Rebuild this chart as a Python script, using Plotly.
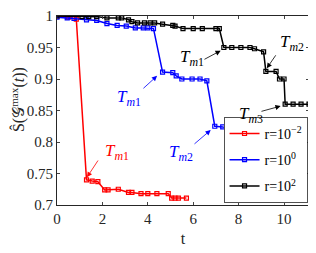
import plotly.graph_objects as go

red_t = [0, 0.5, 0.85, 1.3, 1.55, 1.8, 2.1, 2.25, 2.7, 3.15, 3.3, 3.7, 4.0, 4.4, 4.9, 5.05, 5.2, 5.35, 5.7]
red_y = [1.0, 0.998, 0.995, 0.740, 0.738, 0.737, 0.724, 0.724, 0.725, 0.720, 0.720, 0.718, 0.718, 0.718, 0.718, 0.711, 0.711, 0.711, 0.711]

blue_t = [0, 0.45, 0.75, 1.3, 1.75, 2.2, 2.65, 3.05, 3.45, 3.8, 4.0, 4.25, 4.65, 5.1, 5.25, 5.5, 5.95, 6.3, 6.6,
          6.95, 7.3, 7.5, 7.65, 7.85, 8.0, 8.05, 8.3, 8.5, 8.95]
blue_y = [0.998, 0.997, 0.996, 0.994, 0.993, 0.988, 0.985, 0.984, 0.981, 0.981, 0.981, 0.980, 0.911, 0.910, 0.905,
          0.900, 0.900, 0.900, 0.897, 0.825, 0.824, 0.821, 0.820, 0.820, 0.820, 0.800, 0.799, 0.799, 0.797]

black_t = [0, 1.1, 1.4, 1.75, 2.2, 2.7, 2.85, 3.15, 3.3, 3.55, 3.85, 4.1, 4.3, 4.65, 5.1, 5.2, 5.55, 6.0, 6.4, 7.0,
           7.15, 7.35, 7.7, 8.1, 8.5, 8.7, 9.1, 9.2, 9.65, 9.8, 10.0, 10.05, 10.4, 10.75, 11.1]
black_y = [1.0, 0.999, 0.999, 0.999, 0.997, 0.997, 0.997, 0.994, 0.991, 0.989, 0.989, 0.989, 0.989, 0.987, 0.985,
           0.984, 0.980, 0.980, 0.980, 0.980, 0.980, 0.950, 0.950, 0.950, 0.950, 0.948, 0.943, 0.912, 0.912, 0.900,
           0.900, 0.860, 0.860, 0.860, 0.860]

series_names = ["r=10<sup>\u22122</sup>", "r=10<sup>0</sup>", "r=10<sup>2</sup>"]
colors = ["#ff0000", "#0000ff", "#000000"]

FONT = "Liberation Serif, Times New Roman, serif"

fig = go.Figure()
for i, (t, y, name, c) in enumerate(zip([red_t, blue_t, black_t], [red_y, blue_y, black_y], series_names, colors)):
    fig.add_trace(go.Scatter(x=t, y=y, name=name, mode="lines+markers", legendgroup=f"g{i}",
                             line=dict(color=c, width=1.5),
                             marker=dict(symbol="square-open", size=4, color=c, line=dict(width=1.2, color=c))))

tm1 = "<i>T</i><sub><i>m</i>1</sub>"
tm2 = "<i>T</i><sub><i>m</i>2</sub>"
tm3 = "<i>T</i><sub><i>m</i>3</sub>"
ann_label = [tm1, tm1, tm2, tm1, tm2, tm3]
ann_color = ["#ff0000", "#0000ff", "#0000ff", "#000000", "#000000", "#000000"]
# label centres
ann_text_t = [2.64, 3.17, 5.46, 5.95, 10.35, 8.55]
ann_text_y = [0.784, 0.870, 0.783, 0.933, 0.957, 0.843]
# arrow tails and heads
arr_tail_t = [1.85, 3.74, 5.99, 6.43, 9.68, 8.94]
arr_tail_y = [0.773, 0.883, 0.795, 0.930, 0.940, 0.848]
arr_head_t = [1.32, 4.41, 6.77, 7.21, 9.24, 9.85]
arr_head_y = [0.744, 0.905, 0.819, 0.945, 0.917, 0.857]

for lab, tx, ty, c in zip(ann_label, ann_text_t, ann_text_y, ann_color):
    fig.add_annotation(x=tx, y=ty, xref="x", yref="y", text=lab, showarrow=False,
                       font=dict(family=FONT, size=17, color=c))
for sx, sy, hx, hy, c in zip(arr_tail_t, arr_tail_y, arr_head_t, arr_head_y, ann_color):
    fig.add_annotation(x=hx, y=hy, ax=sx, ay=sy, xref="x", yref="y", axref="x", ayref="y",
                       text="", showarrow=True, arrowhead=2, arrowsize=1.3, arrowwidth=0.8,
                       arrowcolor=c, standoff=0, startstandoff=0)

# y-axis title as rotated text
fig.add_annotation(x=-0.155, y=0.56, xref="paper", yref="paper", textangle=-90, showarrow=False,
                   xanchor="center", yanchor="middle",
                   text="\u015c(\U0001D4A2<sup>max</sup>(<i>t</i>))",
                   font=dict(family=FONT, size=16, color="#262626"))

# page body has an 8px margin, so the figure is sized and offset to match
fig.update_layout(
    width=308, height=245,
    margin=dict(l=49, r=7, t=8, b=48, autoexpand=False),
    paper_bgcolor="white", plot_bgcolor="white",
    font=dict(family=FONT, size=15, color="#262626"),
    showlegend=True,
    legend=dict(x=0.995, y=0.01, xanchor="right", yanchor="bottom",
                bgcolor="white", bordercolor="#262626", borderwidth=0.8,
                font=dict(family=FONT, size=14, color="#000000"),
                tracegroupgap=5, itemwidth=30),
)
fig.update_xaxes(range=[0, 11.1], tickvals=[0, 2, 4, 6, 8, 10], ticks="inside", ticklen=3,
                 showline=True, linecolor="#262626", linewidth=0.8, mirror="ticks",
                 showgrid=False, zeroline=False, automargin=False,
                 title=dict(text="t", standoff=6, font=dict(size=16)))
fig.update_yaxes(range=[0.7, 1.0], tickvals=[0.7, 0.75, 0.8, 0.85, 0.9, 0.95, 1.0], ticks="inside", ticklen=3,
                 showline=True, linecolor="#262626", linewidth=0.8, mirror="ticks",
                 showgrid=False, zeroline=False, automargin=False)

fig.write_html("out.html")
